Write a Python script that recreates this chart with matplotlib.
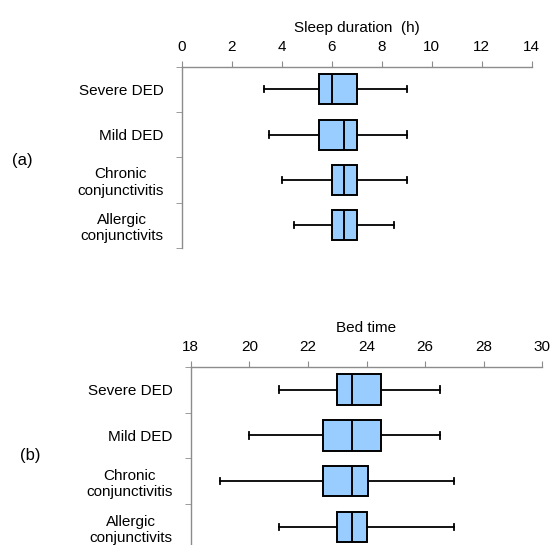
import matplotlib.pyplot as plt

plt.rcParams['font.family'] = ['Liberation Sans', 'DejaVu Sans']

categories = ['Severe DED', 'Mild DED', 'Chronic\nconjunctivitis', 'Allergic\nconjunctivits']

# sleep duration (h): whisker low, q1, median, q3, whisker high
sleep_lo = [3.3, 3.5, 4.0, 4.5]
sleep_q1 = [5.5, 5.5, 6.0, 6.0]
sleep_med = [6.0, 6.5, 6.5, 6.5]
sleep_q3 = [7.0, 7.0, 7.0, 7.0]
sleep_hi = [9.0, 9.0, 9.0, 8.5]

# bed time (h of day, >24 = after midnight)
bed_lo = [21.0, 20.0, 19.0, 21.0]
bed_q1 = [23.0, 22.5, 22.5, 23.0]
bed_med = [23.5, 23.5, 23.5, 23.5]
bed_q3 = [24.5, 24.5, 24.05, 24.0]
bed_hi = [26.5, 26.5, 27.0, 27.0]

sleep_ticks = [0, 2, 4, 6, 8, 10, 12, 14]
bed_ticks = [18, 20, 22, 24, 26, 28, 30]

GRAY = '#8c8c8c'
BOX = '#99ccff'


def make_stats(lo, q1, med, q3, hi):
    return [dict(whislo=a, q1=b, med=c, q3=d, whishi=e, fliers=[])
            for a, b, c, d, e in zip(lo, q1, med, q3, hi)]


def draw_panel(ax, stats, ticks, xlabel):
    pos = list(range(len(stats), 0, -1))
    ax.bxp(stats, positions=pos, orientation='horizontal', widths=0.66,
           patch_artist=True, showfliers=False, capwidths=0.14,
           boxprops=dict(facecolor=BOX, edgecolor='black', linewidth=1.4),
           medianprops=dict(color='black', linewidth=1.4),
           whiskerprops=dict(color='black', linewidth=1.3),
           capprops=dict(color='black', linewidth=1.3))
    ax.set_xlim(ticks[0], ticks[-1])
    ax.set_ylim(0.5, len(stats) + 0.5)
    ax.set_xticks(ticks)
    ax.xaxis.tick_top()
    ax.xaxis.set_label_position('top')
    ax.set_xlabel(xlabel, fontsize=11, labelpad=6)
    ax.tick_params(axis='x', direction='out', length=4, color=GRAY,
                   labelsize=11, pad=5)
    ax.set_yticks(pos)
    ax.set_yticklabels(categories, fontsize=11)
    for lab in ax.get_yticklabels():
        lab.set_multialignment('center')
    ax.set_yticks([p + 0.5 for p in range(len(stats) + 1)], minor=True)
    ax.tick_params(axis='y', which='major', length=0, pad=13)
    ax.tick_params(axis='y', which='minor', direction='out', length=4, color=GRAY)
    for s in ['right', 'bottom']:
        ax.spines[s].set_visible(False)
    for s in ['left', 'top']:
        ax.spines[s].set_color(GRAY)
        ax.spines[s].set_linewidth(1.0)


fig = plt.figure(figsize=(5.53, 5.45), dpi=100)
ax1 = fig.add_axes([0.3286, 0.545, 0.6329, 0.3327])
ax2 = fig.add_axes([0.3449, -0.0092, 0.6358, 0.3364])

draw_panel(ax1, make_stats(sleep_lo, sleep_q1, sleep_med, sleep_q3, sleep_hi),
           sleep_ticks, 'Sleep duration  (h)')
draw_panel(ax2, make_stats(bed_lo, bed_q1, bed_med, bed_q3, bed_hi),
           bed_ticks, 'Bed time')

fig.text(0.022, 0.705, '(a)', fontsize=12, va='center')
fig.text(0.036, 0.165, '(b)', fontsize=12, va='center')

fig.savefig('out.png', dpi=100)
